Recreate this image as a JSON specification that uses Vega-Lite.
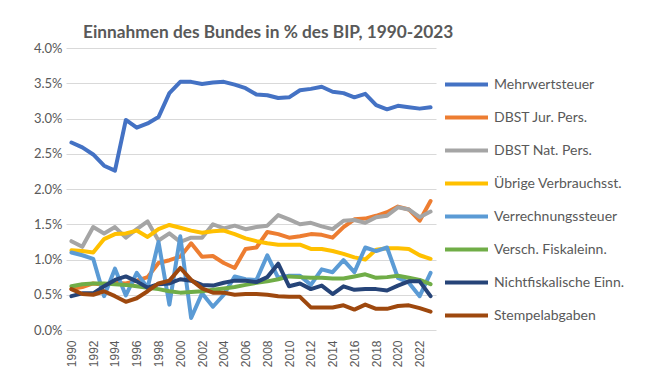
{
"$schema": "https://vega.github.io/schema/vega-lite/v6.json",
"width": 370, "height": 282,
"autosize": {"type": "none"},
"padding": {"left": 66, "top": 48, "right": 215, "bottom": 61},
"background": "white",
"title": {"text": "Einnahmen des Bundes in % des BIP, 1990-2023", "anchor": "start", "frame": "group", "dx": 17, "offset": 1, "fontSize": 17.3, "fontWeight": "bold", "color": "#595959", "font": "Lato"},
"config": {"view": {"stroke": null}, "font": "Lato"},
"data": {"values": [
{"year":1990,"series":"Mehrwertsteuer","value":2.66},{"year":1991,"series":"Mehrwertsteuer","value":2.59},{"year":1992,"series":"Mehrwertsteuer","value":2.49},{"year":1993,"series":"Mehrwertsteuer","value":2.33},{"year":1994,"series":"Mehrwertsteuer","value":2.26},{"year":1995,"series":"Mehrwertsteuer","value":2.98},{"year":1996,"series":"Mehrwertsteuer","value":2.87},{"year":1997,"series":"Mehrwertsteuer","value":2.93},{"year":1998,"series":"Mehrwertsteuer","value":3.02},{"year":1999,"series":"Mehrwertsteuer","value":3.36},{"year":2000,"series":"Mehrwertsteuer","value":3.52},{"year":2001,"series":"Mehrwertsteuer","value":3.52},{"year":2002,"series":"Mehrwertsteuer","value":3.49},{"year":2003,"series":"Mehrwertsteuer","value":3.51},{"year":2004,"series":"Mehrwertsteuer","value":3.52},{"year":2005,"series":"Mehrwertsteuer","value":3.48},{"year":2006,"series":"Mehrwertsteuer","value":3.43},{"year":2007,"series":"Mehrwertsteuer","value":3.34},{"year":2008,"series":"Mehrwertsteuer","value":3.33},{"year":2009,"series":"Mehrwertsteuer","value":3.29},{"year":2010,"series":"Mehrwertsteuer","value":3.30},{"year":2011,"series":"Mehrwertsteuer","value":3.40},{"year":2012,"series":"Mehrwertsteuer","value":3.42},{"year":2013,"series":"Mehrwertsteuer","value":3.45},{"year":2014,"series":"Mehrwertsteuer","value":3.38},{"year":2015,"series":"Mehrwertsteuer","value":3.36},{"year":2016,"series":"Mehrwertsteuer","value":3.30},{"year":2017,"series":"Mehrwertsteuer","value":3.35},{"year":2018,"series":"Mehrwertsteuer","value":3.19},{"year":2019,"series":"Mehrwertsteuer","value":3.13},{"year":2020,"series":"Mehrwertsteuer","value":3.18},{"year":2021,"series":"Mehrwertsteuer","value":3.16},{"year":2022,"series":"Mehrwertsteuer","value":3.14},{"year":2023,"series":"Mehrwertsteuer","value":3.16},
{"year":1990,"series":"DBST Jur. Pers.","value":0.58},{"year":1991,"series":"DBST Jur. Pers.","value":0.61},{"year":1992,"series":"DBST Jur. Pers.","value":0.66},{"year":1993,"series":"DBST Jur. Pers.","value":0.64},{"year":1994,"series":"DBST Jur. Pers.","value":0.67},{"year":1995,"series":"DBST Jur. Pers.","value":0.66},{"year":1996,"series":"DBST Jur. Pers.","value":0.70},{"year":1997,"series":"DBST Jur. Pers.","value":0.75},{"year":1998,"series":"DBST Jur. Pers.","value":0.95},{"year":1999,"series":"DBST Jur. Pers.","value":0.99},{"year":2000,"series":"DBST Jur. Pers.","value":1.04},{"year":2001,"series":"DBST Jur. Pers.","value":1.23},{"year":2002,"series":"DBST Jur. Pers.","value":1.04},{"year":2003,"series":"DBST Jur. Pers.","value":1.05},{"year":2004,"series":"DBST Jur. Pers.","value":0.95},{"year":2005,"series":"DBST Jur. Pers.","value":0.88},{"year":2006,"series":"DBST Jur. Pers.","value":1.15},{"year":2007,"series":"DBST Jur. Pers.","value":1.17},{"year":2008,"series":"DBST Jur. Pers.","value":1.39},{"year":2009,"series":"DBST Jur. Pers.","value":1.36},{"year":2010,"series":"DBST Jur. Pers.","value":1.31},{"year":2011,"series":"DBST Jur. Pers.","value":1.33},{"year":2012,"series":"DBST Jur. Pers.","value":1.36},{"year":2013,"series":"DBST Jur. Pers.","value":1.35},{"year":2014,"series":"DBST Jur. Pers.","value":1.31},{"year":2015,"series":"DBST Jur. Pers.","value":1.46},{"year":2016,"series":"DBST Jur. Pers.","value":1.57},{"year":2017,"series":"DBST Jur. Pers.","value":1.58},{"year":2018,"series":"DBST Jur. Pers.","value":1.62},{"year":2019,"series":"DBST Jur. Pers.","value":1.67},{"year":2020,"series":"DBST Jur. Pers.","value":1.75},{"year":2021,"series":"DBST Jur. Pers.","value":1.71},{"year":2022,"series":"DBST Jur. Pers.","value":1.55},{"year":2023,"series":"DBST Jur. Pers.","value":1.83},
{"year":1990,"series":"DBST Nat. Pers.","value":1.26},{"year":1991,"series":"DBST Nat. Pers.","value":1.18},{"year":1992,"series":"DBST Nat. Pers.","value":1.46},{"year":1993,"series":"DBST Nat. Pers.","value":1.37},{"year":1994,"series":"DBST Nat. Pers.","value":1.46},{"year":1995,"series":"DBST Nat. Pers.","value":1.31},{"year":1996,"series":"DBST Nat. Pers.","value":1.43},{"year":1997,"series":"DBST Nat. Pers.","value":1.54},{"year":1998,"series":"DBST Nat. Pers.","value":1.27},{"year":1999,"series":"DBST Nat. Pers.","value":1.37},{"year":2000,"series":"DBST Nat. Pers.","value":1.25},{"year":2001,"series":"DBST Nat. Pers.","value":1.31},{"year":2002,"series":"DBST Nat. Pers.","value":1.31},{"year":2003,"series":"DBST Nat. Pers.","value":1.50},{"year":2004,"series":"DBST Nat. Pers.","value":1.44},{"year":2005,"series":"DBST Nat. Pers.","value":1.48},{"year":2006,"series":"DBST Nat. Pers.","value":1.43},{"year":2007,"series":"DBST Nat. Pers.","value":1.46},{"year":2008,"series":"DBST Nat. Pers.","value":1.48},{"year":2009,"series":"DBST Nat. Pers.","value":1.63},{"year":2010,"series":"DBST Nat. Pers.","value":1.57},{"year":2011,"series":"DBST Nat. Pers.","value":1.50},{"year":2012,"series":"DBST Nat. Pers.","value":1.52},{"year":2013,"series":"DBST Nat. Pers.","value":1.47},{"year":2014,"series":"DBST Nat. Pers.","value":1.43},{"year":2015,"series":"DBST Nat. Pers.","value":1.55},{"year":2016,"series":"DBST Nat. Pers.","value":1.56},{"year":2017,"series":"DBST Nat. Pers.","value":1.52},{"year":2018,"series":"DBST Nat. Pers.","value":1.60},{"year":2019,"series":"DBST Nat. Pers.","value":1.62},{"year":2020,"series":"DBST Nat. Pers.","value":1.74},{"year":2021,"series":"DBST Nat. Pers.","value":1.71},{"year":2022,"series":"DBST Nat. Pers.","value":1.60},{"year":2023,"series":"DBST Nat. Pers.","value":1.68},
{"year":1990,"series":"Übrige Verbrauchsst.","value":1.13},{"year":1991,"series":"Übrige Verbrauchsst.","value":1.12},{"year":1992,"series":"Übrige Verbrauchsst.","value":1.10},{"year":1993,"series":"Übrige Verbrauchsst.","value":1.29},{"year":1994,"series":"Übrige Verbrauchsst.","value":1.36},{"year":1995,"series":"Übrige Verbrauchsst.","value":1.37},{"year":1996,"series":"Übrige Verbrauchsst.","value":1.41},{"year":1997,"series":"Übrige Verbrauchsst.","value":1.32},{"year":1998,"series":"Übrige Verbrauchsst.","value":1.43},{"year":1999,"series":"Übrige Verbrauchsst.","value":1.49},{"year":2000,"series":"Übrige Verbrauchsst.","value":1.45},{"year":2001,"series":"Übrige Verbrauchsst.","value":1.41},{"year":2002,"series":"Übrige Verbrauchsst.","value":1.38},{"year":2003,"series":"Übrige Verbrauchsst.","value":1.40},{"year":2004,"series":"Übrige Verbrauchsst.","value":1.41},{"year":2005,"series":"Übrige Verbrauchsst.","value":1.36},{"year":2006,"series":"Übrige Verbrauchsst.","value":1.30},{"year":2007,"series":"Übrige Verbrauchsst.","value":1.26},{"year":2008,"series":"Übrige Verbrauchsst.","value":1.23},{"year":2009,"series":"Übrige Verbrauchsst.","value":1.21},{"year":2010,"series":"Übrige Verbrauchsst.","value":1.21},{"year":2011,"series":"Übrige Verbrauchsst.","value":1.21},{"year":2012,"series":"Übrige Verbrauchsst.","value":1.15},{"year":2013,"series":"Übrige Verbrauchsst.","value":1.15},{"year":2014,"series":"Übrige Verbrauchsst.","value":1.12},{"year":2015,"series":"Übrige Verbrauchsst.","value":1.08},{"year":2016,"series":"Übrige Verbrauchsst.","value":1.03},{"year":2017,"series":"Übrige Verbrauchsst.","value":1.00},{"year":2018,"series":"Übrige Verbrauchsst.","value":1.14},{"year":2019,"series":"Übrige Verbrauchsst.","value":1.16},{"year":2020,"series":"Übrige Verbrauchsst.","value":1.16},{"year":2021,"series":"Übrige Verbrauchsst.","value":1.15},{"year":2022,"series":"Übrige Verbrauchsst.","value":1.06},{"year":2023,"series":"Übrige Verbrauchsst.","value":1.01},
{"year":1990,"series":"Verrechnungssteuer","value":1.10},{"year":1991,"series":"Verrechnungssteuer","value":1.06},{"year":1992,"series":"Verrechnungssteuer","value":1.01},{"year":1993,"series":"Verrechnungssteuer","value":0.48},{"year":1994,"series":"Verrechnungssteuer","value":0.87},{"year":1995,"series":"Verrechnungssteuer","value":0.49},{"year":1996,"series":"Verrechnungssteuer","value":0.81},{"year":1997,"series":"Verrechnungssteuer","value":0.60},{"year":1998,"series":"Verrechnungssteuer","value":1.25},{"year":1999,"series":"Verrechnungssteuer","value":0.36},{"year":2000,"series":"Verrechnungssteuer","value":1.33},{"year":2001,"series":"Verrechnungssteuer","value":0.17},{"year":2002,"series":"Verrechnungssteuer","value":0.52},{"year":2003,"series":"Verrechnungssteuer","value":0.33},{"year":2004,"series":"Verrechnungssteuer","value":0.50},{"year":2005,"series":"Verrechnungssteuer","value":0.76},{"year":2006,"series":"Verrechnungssteuer","value":0.72},{"year":2007,"series":"Verrechnungssteuer","value":0.71},{"year":2008,"series":"Verrechnungssteuer","value":1.06},{"year":2009,"series":"Verrechnungssteuer","value":0.74},{"year":2010,"series":"Verrechnungssteuer","value":0.77},{"year":2011,"series":"Verrechnungssteuer","value":0.77},{"year":2012,"series":"Verrechnungssteuer","value":0.64},{"year":2013,"series":"Verrechnungssteuer","value":0.86},{"year":2014,"series":"Verrechnungssteuer","value":0.82},{"year":2015,"series":"Verrechnungssteuer","value":0.99},{"year":2016,"series":"Verrechnungssteuer","value":0.82},{"year":2017,"series":"Verrechnungssteuer","value":1.17},{"year":2018,"series":"Verrechnungssteuer","value":1.12},{"year":2019,"series":"Verrechnungssteuer","value":1.17},{"year":2020,"series":"Verrechnungssteuer","value":0.74},{"year":2021,"series":"Verrechnungssteuer","value":0.67},{"year":2022,"series":"Verrechnungssteuer","value":0.48},{"year":2023,"series":"Verrechnungssteuer","value":0.81},
{"year":1990,"series":"Versch. Fiskaleinn.","value":0.62},{"year":1991,"series":"Versch. Fiskaleinn.","value":0.65},{"year":1992,"series":"Versch. Fiskaleinn.","value":0.66},{"year":1993,"series":"Versch. Fiskaleinn.","value":0.66},{"year":1994,"series":"Versch. Fiskaleinn.","value":0.65},{"year":1995,"series":"Versch. Fiskaleinn.","value":0.64},{"year":1996,"series":"Versch. Fiskaleinn.","value":0.62},{"year":1997,"series":"Versch. Fiskaleinn.","value":0.60},{"year":1998,"series":"Versch. Fiskaleinn.","value":0.58},{"year":1999,"series":"Versch. Fiskaleinn.","value":0.55},{"year":2000,"series":"Versch. Fiskaleinn.","value":0.53},{"year":2001,"series":"Versch. Fiskaleinn.","value":0.54},{"year":2002,"series":"Versch. Fiskaleinn.","value":0.55},{"year":2003,"series":"Versch. Fiskaleinn.","value":0.57},{"year":2004,"series":"Versch. Fiskaleinn.","value":0.59},{"year":2005,"series":"Versch. Fiskaleinn.","value":0.61},{"year":2006,"series":"Versch. Fiskaleinn.","value":0.64},{"year":2007,"series":"Versch. Fiskaleinn.","value":0.67},{"year":2008,"series":"Versch. Fiskaleinn.","value":0.69},{"year":2009,"series":"Versch. Fiskaleinn.","value":0.72},{"year":2010,"series":"Versch. Fiskaleinn.","value":0.76},{"year":2011,"series":"Versch. Fiskaleinn.","value":0.75},{"year":2012,"series":"Versch. Fiskaleinn.","value":0.74},{"year":2013,"series":"Versch. Fiskaleinn.","value":0.74},{"year":2014,"series":"Versch. Fiskaleinn.","value":0.73},{"year":2015,"series":"Versch. Fiskaleinn.","value":0.73},{"year":2016,"series":"Versch. Fiskaleinn.","value":0.76},{"year":2017,"series":"Versch. Fiskaleinn.","value":0.79},{"year":2018,"series":"Versch. Fiskaleinn.","value":0.74},{"year":2019,"series":"Versch. Fiskaleinn.","value":0.75},{"year":2020,"series":"Versch. Fiskaleinn.","value":0.77},{"year":2021,"series":"Versch. Fiskaleinn.","value":0.74},{"year":2022,"series":"Versch. Fiskaleinn.","value":0.71},{"year":2023,"series":"Versch. Fiskaleinn.","value":0.65},
{"year":1990,"series":"Nichtfiskalische Einn.","value":0.48},{"year":1991,"series":"Nichtfiskalische Einn.","value":0.52},{"year":1992,"series":"Nichtfiskalische Einn.","value":0.52},{"year":1993,"series":"Nichtfiskalische Einn.","value":0.62},{"year":1994,"series":"Nichtfiskalische Einn.","value":0.71},{"year":1995,"series":"Nichtfiskalische Einn.","value":0.76},{"year":1996,"series":"Nichtfiskalische Einn.","value":0.69},{"year":1997,"series":"Nichtfiskalische Einn.","value":0.60},{"year":1998,"series":"Nichtfiskalische Einn.","value":0.65},{"year":1999,"series":"Nichtfiskalische Einn.","value":0.66},{"year":2000,"series":"Nichtfiskalische Einn.","value":0.72},{"year":2001,"series":"Nichtfiskalische Einn.","value":0.70},{"year":2002,"series":"Nichtfiskalische Einn.","value":0.64},{"year":2003,"series":"Nichtfiskalische Einn.","value":0.63},{"year":2004,"series":"Nichtfiskalische Einn.","value":0.67},{"year":2005,"series":"Nichtfiskalische Einn.","value":0.70},{"year":2006,"series":"Nichtfiskalische Einn.","value":0.70},{"year":2007,"series":"Nichtfiskalische Einn.","value":0.68},{"year":2008,"series":"Nichtfiskalische Einn.","value":0.75},{"year":2009,"series":"Nichtfiskalische Einn.","value":0.94},{"year":2010,"series":"Nichtfiskalische Einn.","value":0.62},{"year":2011,"series":"Nichtfiskalische Einn.","value":0.66},{"year":2012,"series":"Nichtfiskalische Einn.","value":0.58},{"year":2013,"series":"Nichtfiskalische Einn.","value":0.63},{"year":2014,"series":"Nichtfiskalische Einn.","value":0.51},{"year":2015,"series":"Nichtfiskalische Einn.","value":0.62},{"year":2016,"series":"Nichtfiskalische Einn.","value":0.57},{"year":2017,"series":"Nichtfiskalische Einn.","value":0.58},{"year":2018,"series":"Nichtfiskalische Einn.","value":0.58},{"year":2019,"series":"Nichtfiskalische Einn.","value":0.56},{"year":2020,"series":"Nichtfiskalische Einn.","value":0.63},{"year":2021,"series":"Nichtfiskalische Einn.","value":0.69},{"year":2022,"series":"Nichtfiskalische Einn.","value":0.69},{"year":2023,"series":"Nichtfiskalische Einn.","value":0.48},
{"year":1990,"series":"Stempelabgaben","value":0.58},{"year":1991,"series":"Stempelabgaben","value":0.51},{"year":1992,"series":"Stempelabgaben","value":0.50},{"year":1993,"series":"Stempelabgaben","value":0.55},{"year":1994,"series":"Stempelabgaben","value":0.48},{"year":1995,"series":"Stempelabgaben","value":0.40},{"year":1996,"series":"Stempelabgaben","value":0.45},{"year":1997,"series":"Stempelabgaben","value":0.55},{"year":1998,"series":"Stempelabgaben","value":0.66},{"year":1999,"series":"Stempelabgaben","value":0.70},{"year":2000,"series":"Stempelabgaben","value":0.88},{"year":2001,"series":"Stempelabgaben","value":0.71},{"year":2002,"series":"Stempelabgaben","value":0.59},{"year":2003,"series":"Stempelabgaben","value":0.53},{"year":2004,"series":"Stempelabgaben","value":0.53},{"year":2005,"series":"Stempelabgaben","value":0.50},{"year":2006,"series":"Stempelabgaben","value":0.51},{"year":2007,"series":"Stempelabgaben","value":0.51},{"year":2008,"series":"Stempelabgaben","value":0.50},{"year":2009,"series":"Stempelabgaben","value":0.48},{"year":2010,"series":"Stempelabgaben","value":0.47},{"year":2011,"series":"Stempelabgaben","value":0.47},{"year":2012,"series":"Stempelabgaben","value":0.32},{"year":2013,"series":"Stempelabgaben","value":0.32},{"year":2014,"series":"Stempelabgaben","value":0.32},{"year":2015,"series":"Stempelabgaben","value":0.35},{"year":2016,"series":"Stempelabgaben","value":0.29},{"year":2017,"series":"Stempelabgaben","value":0.36},{"year":2018,"series":"Stempelabgaben","value":0.30},{"year":2019,"series":"Stempelabgaben","value":0.30},{"year":2020,"series":"Stempelabgaben","value":0.34},{"year":2021,"series":"Stempelabgaben","value":0.35},{"year":2022,"series":"Stempelabgaben","value":0.31},{"year":2023,"series":"Stempelabgaben","value":0.26}
]},
"mark": {"type": "line", "strokeWidth": 4, "strokeCap": "round", "strokeJoin": "round"},
"encoding": {
"x": {"field": "year", "type": "ordinal", "scale": {"type": "point", "padding": 0.5},
 "axis": {"values": [1990,1992,1994,1996,1998,2000,2002,2004,2006,2008,2010,2012,2014,2016,2018,2020,2022], "labelAngle": 270, "title": null, "domain": false, "ticks": false, "grid": false, "labelFontSize": 12, "labelColor": "#595959", "labelPadding": 10, "labelFont": "Liberation Sans"}},
"y": {"field": "value", "type": "quantitative", "scale": {"domain": [0, 4]},
 "axis": {"values": [0,0.5,1,1.5,2,2.5,3,3.5,4], "labelExpr": "format(datum.value, '.1f') + '%'", "title": null, "domain": false, "ticks": false, "gridColor": "#d9d9d9", "gridWidth": 1, "labelFontSize": 13, "labelColor": "#595959", "labelPadding": 4}},
"color": {"field": "series", "type": "nominal",
 "scale": {"domain": ["Mehrwertsteuer","DBST Jur. Pers.","DBST Nat. Pers.","Übrige Verbrauchsst.","Verrechnungssteuer","Versch. Fiskaleinn.","Nichtfiskalische Einn.","Stempelabgaben"],
  "range": ["#4472C4","#ED7D31","#A5A5A5","#FFC000","#5B9BD5","#70AD47","#264478","#9E480E"]},
 "legend": {"orient": "none", "legendX": 377, "legendY": 13, "title": null, "symbolType": "stroke", "symbolStrokeWidth": 4, "symbolSize": 1849, "rowPadding": 1, "labelFontSize": 14, "labelColor": "#595959", "labelOffset": 4, "labelLimit": 220}}
}
}
